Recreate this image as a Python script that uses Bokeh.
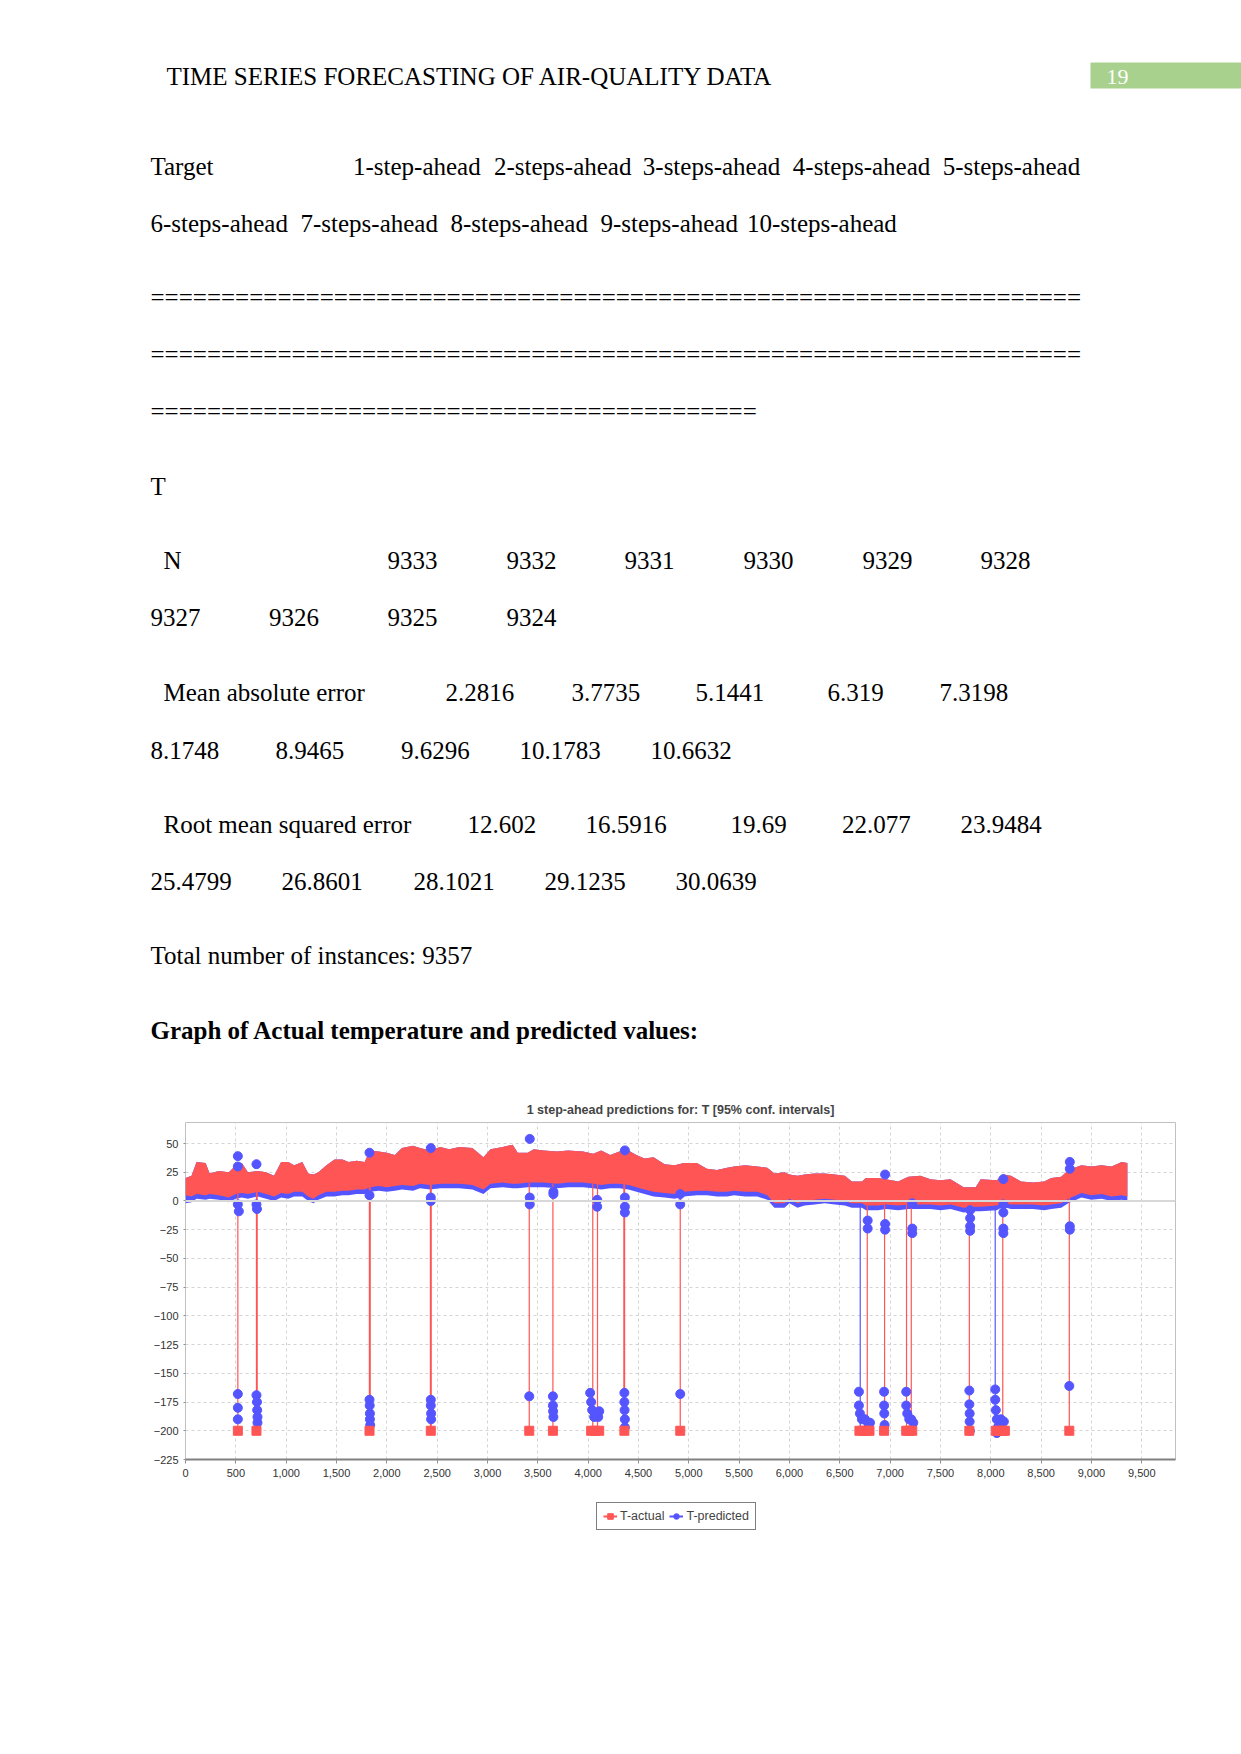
import numpy as np
from bokeh.plotting import figure
from bokeh.models import (Range1d, Legend, LegendItem, NumeralTickFormatter,
                          FixedTicker, Span)
from bokeh.layouts import column
from bokeh.embed import file_html
from bokeh.resources import INLINE
from bokeh.core.properties import value

# ---------------- page text content ----------------
header_text = "TIME SERIES FORECASTING OF AIR-QUALITY DATA"
page_number = "19"
target_label = "Target"
step_labels = ["1-step-ahead", "2-steps-ahead", "3-steps-ahead", "4-steps-ahead",
               "5-steps-ahead", "6-steps-ahead", "7-steps-ahead", "8-steps-ahead",
               "9-steps-ahead", "10-steps-ahead"]
sep_lines = ["=" * 66, "=" * 66, "=" * 43]
target_name = "T"
n_values = ["9333", "9332", "9331", "9330", "9329", "9328", "9327", "9326", "9325", "9324"]
mae_values = ["2.2816", "3.7735", "5.1441", "6.319", "7.3198", "8.1748", "8.9465",
              "9.6296", "10.1783", "10.6632"]
rmse_values = ["12.602", "16.5916", "19.69", "22.077", "23.9484", "25.4799", "26.8601",
               "28.1021", "29.1235", "30.0639"]
total_text = "Total number of instances: 9357"
graph_heading = "Graph of Actual temperature and predicted values:"

# ---------------- chart data ----------------
chart_title = "1 step-ahead predictions for: T [95% conf. intervals]"
series_names = ["T-actual", "T-predicted"]
x_ticks = [0, 500, 1000, 1500, 2000, 2500, 3000, 3500, 4000, 4500, 5000, 5500,
           6000, 6500, 7000, 7500, 8000, 8500, 9000, 9500]
y_ticks = [-225, -200, -175, -150, -125, -100, -75, -50, -25, 0, 25, 50]

band_x = [0, 60, 110, 200, 240, 330, 430, 500, 560, 620, 720, 800, 880, 950, 1020,
          1080, 1160, 1220, 1270, 1320, 1400, 1480, 1560, 1620, 1700, 1780, 1830,
          1920, 2000, 2080, 2150, 2260, 2330, 2430, 2530, 2620, 2720, 2850, 2960,
          3030, 3150, 3250, 3300, 3400, 3460, 3560, 3690, 3800, 3950, 4050, 4130,
          4220, 4310, 4400, 4480, 4560, 4650, 4760, 4860, 4950, 5080, 5180, 5280,
          5380, 5450, 5560, 5680, 5780, 5850, 5950, 6000, 6080, 6150, 6250, 6350,
          6450, 6550, 6620, 6720, 6760, 6880, 6960, 7080, 7180, 7300, 7400, 7500,
          7600, 7730, 7850, 7900, 8060, 8120, 8200, 8300, 8420, 8530, 8600, 8700,
          8770, 8900, 9000, 9100, 9200, 9300, 9357]
actual_hi = [20, 22, 34, 33, 24, 26, 25, 31, 33, 25, 26, 25, 22, 34, 34,
             31, 34, 24, 23, 25, 31, 36, 36, 34, 35, 34, 44,
             43, 42, 40, 46, 48, 46, 44, 47, 45, 47, 46, 38,
             45, 47, 49, 42, 42, 45, 44, 43, 44, 43, 41, 44,
             40, 43, 44, 40, 37, 38, 32, 31, 33, 33, 28, 27,
             29, 30, 31, 30, 29, 24, 25, 23, 22, 23, 24, 24,
             23, 22, 17, 17, 20, 20, 19, 17, 21, 22, 19, 18,
             19, 12, 12, 19, 18, 23, 22, 17, 16, 17, 20, 21,
             27, 31, 30, 31, 30, 34, 33]
actual_lo = [5, 4, 6, 5, 6, 5, 3, 6, 7, 6, 8, 6, 4, 7, 6,
             8, 8, 4, 2, 5, 8, 8, 9, 9, 10, 10, 12,
             13, 12, 13, 14, 13, 15, 14, 15, 15, 15, 14, 10,
             15, 16, 15, 15, 16, 16, 16, 15, 16, 16, 15, 14,
             15, 15, 14, 12, 10, 8, 7, 6, 8, 9, 9, 8,
             8, 9, 8, 8, 5, -2, -2, 2, -2, 0, 1, 2,
             1, 0, -2, -2, -4, -4, -3, -4, -3, -3, -3, -4,
             -3, -6, -5, -5, -4, -1, -3, -3, -3, -4, -3, -2,
             2, 7, 5, 6, 4, 5, 4]
predicted_lo = [-2, -1, 2, 1, 2, 1, -1, 2, 3, 2, 4, 2, 0, 3, 2,
                4, 4, 0, -2, 1, 4, 4, 5, 5, 6, 6, 8,
                9, 8, 9, 10, 9, 11, 10, 11, 11, 11, 10, 6,
                11, 12, 11, 11, 12, 12, 12, 11, 12, 12, 11, 10,
                11, 11, 10, 8, 6, 4, 3, 2, 4, 5, 5, 4,
                4, 5, 4, 4, 1, -6, -6, -2, -6, -4, -3, -2,
                -3, -4, -6, -6, -8, -8, -7, -8, -7, -7, -7, -8,
                -7, -10, -9, -9, -8, -5, -7, -7, -7, -8, -7, -6,
                -2, 3, 1, 2, 0, 1, 0]

# missing readings recorded as -200 in the actual series
missing_x = [520, 705, 1828, 2437, 3415, 3650, 4030, 4070, 4110, 4360, 4915,
             6695, 6730, 6765, 6795, 6940, 7160, 7190, 7220, 7787, 8050, 8085,
             8120, 8140, 8780]
missing_y = [-200, -200, -200, -200, -200, -200, -200, -200, -200, -200, -200,
             -200, -200, -200, -200, -200, -200, -200, -200, -200, -200, -200,
             -200, -200, -200]
actual_drop_x = [520, 705, 712, 1827, 1835, 2433, 2441, 3415, 3650, 4046, 4093,
                 4355, 4362, 4915, 6773, 6945, 7163, 7210, 7787, 8119, 8780]
predicted_drop_x = [6703, 8044]

# predicted values around the gaps
pred_ev_x = [520, 520, 520, 705, 710, 712, 715, 715, 1828, 1830, 1832, 1832, 1835,
             2437, 2437, 2440, 2440, 3415, 3650, 3650, 3652, 3655,
             4020, 4030, 4040, 4060, 4080, 4100, 4110,
             4360, 4360, 4362, 4365, 4365, 4915,
             6690, 6690, 6700, 6720, 6750, 6780, 6800,
             6940, 6940, 6942, 6945, 7160, 7160, 7170, 7190, 7210, 7230,
             7787, 7787, 7790, 7790, 7792,
             8044, 8044, 8050, 8060, 8070, 8060, 8100, 8130, 8780,
             520, 520, 520, 530, 705, 705, 710, 1828, 1828, 2437, 2437, 2437,
             3420, 3420, 3420, 3655, 3655, 4090, 4090, 4365, 4365, 4365, 4365,
             4915, 4915, 6777, 6777, 6950, 6950, 6950, 7220, 7220, 7220,
             7795, 7795, 7795, 7795, 8125, 8125, 8125, 8125, 8125,
             8785, 8785, 8785, 8785]
pred_ev_y = [-168, -180, -190, -169, -175, -182, -188, -193, -173, -178, -185, -190, -195,
             -173, -178, -185, -190, -170, -170, -178, -183, -188,
             -167, -175, -182, -188, -185, -188, -183,
             -167, -175, -182, -190, -197, -168,
             -166, -178, -185, -190, -190, -193, -193,
             -166, -178, -185, -195, -166, -178, -185, -190, -190, -193,
             -165, -177, -185, -192, -200,
             -164, -173, -182, -190, -197, -202, -190, -192, -161,
             39, 30, -3, -9, 32, -3, -7, 42, 5, 46, 3, 0,
             54, 3, -3, 8, 6, 1, -5, 44, 3, -5, -10,
             6, -3, -17, -24, 23, -20, -25, -2, -24, -28,
             -8, -15, -22, -26, 19, -3, -10, -24, -28,
             34, 28, -22, -25]

RED = "#ff5555"
BLUE = "#5555ff"
SERIF = value("Liberation Serif")
SANS = "Liberation Sans"


def blank(width, height):
    f = figure(width=width, height=height, x_range=Range1d(0, width),
               y_range=Range1d(height, 0), output_backend="svg",
               toolbar_location=None, min_border=0,
               x_axis_location=None, y_axis_location=None)
    f.frame_align = False
    f.grid.visible = False
    f.outline_line_color = None
    return f


# ---------------- page figure (text) ----------------
TOP_H = 1085
page = blank(1241, TOP_H)

page.text(x=[166], y=[76], text=[header_text], text_font=SERIF,
          text_font_size="25px", text_baseline="middle", text_color="#000000")
page.quad(left=[1090], right=[1241], top=[62], bottom=[88],
          fill_color="#a9d18e", line_color=None)
page.text(x=[1106], y=[76], text=[page_number], text_font=SERIF,
          text_font_size="22px", text_baseline="middle", text_color="#ffffff")

texts, xs, ys = [], [], []


def add_row(y, items):
    for t, x in items:
        texts.append(t)
        xs.append(x)
        ys.append(y)


add_row(165.6, [(target_label, 150)] + list(zip(step_labels[:5],
                                               [352.5, 493.5, 642.3, 792.3, 942.2])))
add_row(222.7, list(zip(step_labels[5:], [150, 300, 450, 600, 746.4])))
add_row(296.5, [(sep_lines[0], 150)])
add_row(353.6, [(sep_lines[1], 150)])
add_row(410.7, [(sep_lines[2], 150)])
add_row(485.7, [(target_name, 150)])
add_row(559.5, [("N", 163)] + list(zip(n_values[:6], [387, 506, 624, 743, 862, 980])))
add_row(616.6, list(zip(n_values[6:], [150, 268.6, 387, 506])))
add_row(691.6, [("Mean absolute error", 163)] + list(zip(mae_values[:5],
                                                        [445, 571, 695, 827, 939])))
add_row(749.7, list(zip(mae_values[5:], [150, 275, 400.6, 519, 650])))
add_row(823.6, [("Root mean squared error", 163)] + list(zip(rmse_values[:5],
                                                            [467, 585, 730, 841.5, 960])))
add_row(880.7, list(zip(rmse_values[5:], [150, 281, 413, 544, 675])))
add_row(954.5, [(total_text, 150)])

page.text(x=xs, y=ys, text=texts, text_font=SERIF, text_font_size="25px",
          text_baseline="middle", text_color="#000000")
page.text(x=[150], y=[1029.5], text=[graph_heading], text_font=SERIF,
          text_font_size="25px", text_font_style="bold", text_baseline="middle",
          text_color="#000000")

# ---------------- chart ----------------
chart = figure(width=1241, height=405, min_border_left=185,
               min_border_right=66, min_border_top=37, min_border_bottom=31,
               x_range=Range1d(0, 9835), y_range=Range1d(-225, 68.3),
               output_backend="svg", toolbar_location=None,
               background_fill_color="#ffffff", border_fill_color="#ffffff")
chart.frame_align = False
chart.title.text = chart_title
chart.title.align = "center"
chart.title.text_font = SANS
chart.title.text_font_size = "12.5px"
chart.title.text_font_style = "bold"
chart.title.standoff = 12

chart.outline_line_color = "#c0c0c0"
chart.xaxis.ticker = FixedTicker(ticks=x_ticks)
chart.yaxis.ticker = FixedTicker(ticks=y_ticks)
chart.xaxis.formatter = NumeralTickFormatter(format="0,0")
for ax in (chart.xaxis, chart.yaxis):
    ax.major_label_text_font = SANS
    ax.major_label_text_font_size = "11px"
    ax.major_label_text_color = "#333333"
    ax.minor_tick_line_color = None
    ax.major_tick_in = 0
    ax.major_tick_line_color = "#909090"
chart.xaxis.axis_line_color = "#808080"
chart.xaxis.axis_line_width = 2
chart.xaxis.major_tick_out = 4
chart.yaxis.axis_line_color = None
chart.yaxis.major_tick_out = 2
chart.xgrid.grid_line_color = "#d4d4d4"
chart.ygrid.grid_line_color = "#d4d4d4"
chart.xgrid.grid_line_dash = "3 3"
chart.ygrid.grid_line_dash = "3 3"
chart.add_layout(Span(location=0, dimension="width", line_color="#d8d8d8",
                      line_width=2))

# predicted (blue) band peeking out below the actual band
chart.varea(x=band_x, y1=predicted_lo, y2=actual_hi, fill_color=BLUE)
# actual (red) band
chart.varea(x=band_x, y1=actual_lo, y2=actual_hi, fill_color=RED)

drop_top = np.interp(actual_drop_x, band_x, actual_lo)
chart.segment(x0=actual_drop_x, y0=drop_top, x1=actual_drop_x,
              y1=[-200] * len(actual_drop_x), line_color=RED, line_width=1.2)
pdrop_top = np.interp(predicted_drop_x, band_x, actual_lo)
chart.segment(x0=predicted_drop_x, y0=pdrop_top, x1=predicted_drop_x,
              y1=[-200] * len(predicted_drop_x), line_color=BLUE, line_width=1.2)
chart.scatter(x=pred_ev_x, y=pred_ev_y, marker="circle", size=9,
              fill_color=BLUE, line_color=BLUE)
chart.scatter(x=missing_x, y=missing_y, marker="square", size=9,
              fill_color=RED, line_color=RED)

# ---------------- legend strip under the chart ----------------
LEG_H = 60
leg = blank(1241, LEG_H)
# legend proxies: one point each, placed outside the visible strip
proxy_x = [-100, -90]
proxy_y = [-100, -100]
r_line = leg.line(x=proxy_x, y=proxy_y, line_color=RED, line_width=2)
r_mark = leg.scatter(x=proxy_x, y=proxy_y, marker="square", size=9,
                     fill_color=RED, line_color=RED)
b_line = leg.line(x=proxy_x, y=proxy_y, line_color=BLUE, line_width=2)
b_mark = leg.scatter(x=proxy_x, y=proxy_y, marker="circle", size=9,
                     fill_color=BLUE, line_color=BLUE)
legend = Legend(items=[LegendItem(label=series_names[0], renderers=[r_line, r_mark]),
                       LegendItem(label=series_names[1], renderers=[b_line, b_mark])],
                orientation="horizontal", location=(596, 20),
                border_line_color="#000000", border_line_width=1.2,
                background_fill_color="#ffffff", background_fill_alpha=1.0,
                label_text_font=SANS, label_text_font_size="12.5px",
                glyph_width=14, glyph_height=14, spacing=5, padding=6,
                label_standoff=3, margin=0)
leg.add_layout(legend, "center")

layout = column(page, chart, leg, spacing=0)
open("out.html", "w").write(file_html(layout, INLINE))
